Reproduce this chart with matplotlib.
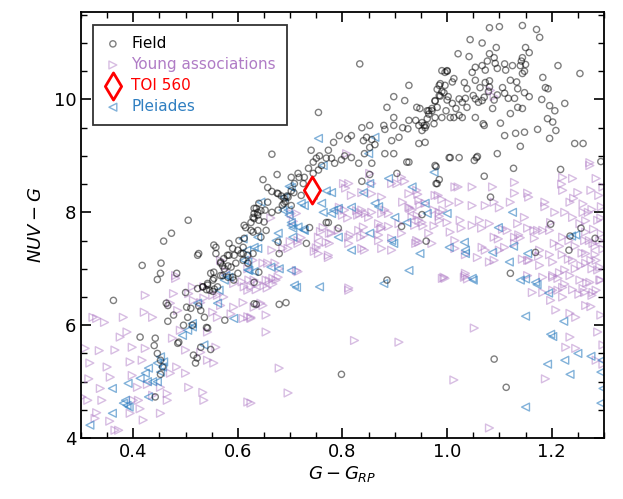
import numpy as np
import matplotlib
matplotlib.use('Agg')
import matplotlib.pyplot as plt

# Field stars, (G - G_RP, NUV - G)
field_pts = [
    (0.362,6.44),(0.417,7.06),(0.458,7.49),(0.473,7.63),(0.505,7.86),(0.453,7.10),(0.452,6.92),(0.446,6.81),(0.483,6.92),(0.413,5.79),
    (0.442,5.77),(0.440,5.64),(0.446,5.50),(0.452,5.38),(0.456,5.26),(0.452,5.13),(0.442,4.73),(0.466,6.07),(0.477,6.18),(0.463,6.39),
    (0.466,6.35),(0.500,6.58),(0.502,6.32),(0.485,5.68),(0.487,5.70),(0.504,6.14),(0.513,6.00),(0.496,6.00),(0.515,5.47),(0.522,5.42),
    (0.519,5.33),(0.529,5.61),(0.540,5.96),(0.548,5.57),(0.536,6.14),(0.529,6.26),(0.523,6.65),(0.533,6.68),(0.542,6.71),(0.552,6.80),
    (0.552,6.60),(0.561,6.68),(0.555,6.64),(0.540,6.63),(0.554,6.94),(0.571,6.88),(0.567,7.12),(0.580,7.24),(0.574,7.00),(0.587,7.03),
    (0.593,7.24),(0.606,7.27),(0.610,7.38),(0.583,7.45),(0.554,7.42),(0.558,7.27),(0.525,7.27),(0.523,7.24),(0.612,7.77),(0.629,7.65),
    (0.631,7.98),(0.635,8.07),(0.625,7.82),(0.592,6.80),(0.631,6.38),(0.575,6.09),(0.542,5.95),(0.525,6.34),(0.510,6.30),
    (0.665,9.03),(0.675,8.67),(0.648,8.58),(0.657,8.44),(0.677,8.33),(0.688,8.25),(0.691,8.19),(0.685,8.13),(0.694,8.29),(0.702,8.62),
    (0.715,8.69),(0.707,8.35),(0.657,8.18),(0.631,8.07),(0.638,8.00),(0.644,8.03),(0.629,7.91),(0.640,7.86),(0.650,7.83),(0.615,7.73),
    (0.625,7.68),(0.638,7.68),(0.654,7.68),(0.644,7.56),(0.612,7.54),(0.602,7.50),(0.590,7.36),(0.600,7.33),(0.610,7.27),
    (0.619,7.24),(0.629,7.27),(0.583,7.24),(0.573,7.18),(0.558,7.38),(0.567,7.10),(0.571,7.05),(0.581,7.05),(0.596,7.10),
    (0.610,7.15),(0.619,7.10),(0.600,6.92),(0.590,6.85),(0.581,6.85),(0.567,6.88),(0.554,6.83),(0.548,6.92),(0.542,6.74),(0.533,6.68),
    (0.546,6.62),(0.677,7.47),(0.679,7.27),(0.640,6.94),(0.631,6.76),
    (0.833,10.63),(0.754,9.77),(0.740,9.10),(0.744,8.89),(0.750,8.96),(0.756,9.00),(0.773,9.10),(0.783,9.24),(0.794,9.36),(0.810,9.30),
    (0.817,9.36),(0.837,9.50),(0.852,9.54),(0.846,9.33),(0.840,9.27),(0.856,9.29),(0.862,9.20),(0.852,9.15),(0.842,9.04),(0.856,8.87),
    (0.831,8.87),(0.817,8.97),(0.804,9.00),(0.798,8.93),(0.785,8.87),(0.779,8.96),(0.769,8.96),(0.760,8.83),(0.754,8.75),(0.744,8.69),
    (0.735,8.78),(0.727,8.62),(0.725,8.51),(0.717,8.62),(0.708,8.51),(0.721,8.30),(0.702,8.38),(0.696,8.27),(0.688,8.16),(0.683,8.29),
    (0.675,8.34),(0.665,8.37),(0.677,8.04),(0.665,8.00),(0.652,8.04),(0.640,8.16),(0.638,7.95),(0.631,7.89),(0.773,7.82),(0.792,7.72),
    (0.737,7.73),(0.837,8.55),
    (0.879,9.54),(0.881,9.47),(0.898,9.54),(0.908,9.33),(0.894,9.27),(0.915,9.50),(0.925,9.48),(0.927,9.63),(0.940,9.63),(0.946,9.54),
    (0.952,9.59),(0.958,9.50),(0.952,9.45),(0.962,9.66),(0.942,9.86),(0.948,9.84),(0.971,9.84),(0.965,9.80),(0.981,9.86),(0.977,9.98),
    (0.985,10.07),(0.994,10.12),(0.996,10.25),(1.002,10.05),(0.927,10.25),(0.919,9.98),(0.898,10.05),(0.885,9.86),(0.898,9.68),(0.990,10.51),
    (1.000,10.50),(0.985,10.25),(0.946,9.22),(0.958,9.24),(0.927,8.89),(0.904,8.69),(0.977,8.83),(0.981,8.51),(1.004,8.97),(0.881,9.04),
    (0.898,9.04),
    (1.081,11.27),(1.100,11.29),(1.144,11.31),(1.171,11.24),(1.177,11.10),(1.044,11.06),(1.067,11.00),(1.094,10.92),(1.021,10.81),(1.042,10.76),
    (1.150,10.92),(1.157,10.83),(1.144,10.74),(1.142,10.68),(1.140,10.60),(1.081,10.81),(1.090,10.74),(1.077,10.68),(1.067,10.60),(1.054,10.57),
    (1.048,10.48),(1.073,10.52),(1.092,10.64),(1.110,10.63),(1.125,10.60),(1.112,10.52),(1.096,10.55),(1.150,10.62),(1.144,10.46),(1.148,10.50),
    (1.212,10.60),(1.254,10.46),(1.183,10.39),(1.000,10.51),(0.996,10.48),(0.987,10.28),(1.013,10.37),(1.010,10.31),(1.033,10.30),(1.038,10.19),
    (1.054,10.34),(1.063,10.21),(1.073,10.30),(1.079,10.14),(1.081,10.22),(1.106,10.21),(1.121,10.34),(1.133,10.31),(1.135,10.19),(1.148,10.12),
    (1.157,10.05),(1.129,10.02),(1.117,10.02),(1.110,10.11),(1.096,10.08),(1.090,9.99),(1.087,9.84),(1.071,10.04),(1.067,9.98),(1.060,9.95),
    (1.054,10.01),(1.050,10.07),(1.035,10.02),(1.029,9.95),(1.023,10.01),(1.010,9.93),(1.017,9.84),(1.000,9.99),(0.990,10.14),(0.987,10.06),
    (0.981,10.18),(0.977,9.97),(0.971,9.80),(0.965,9.74),(0.962,9.80),(0.956,9.54),(0.960,9.54),(0.975,9.57),(0.977,9.68),(0.990,9.68),
    (0.998,9.80),(1.006,9.68),(1.013,9.68),(1.023,9.72),(1.029,9.68),(1.038,9.86),(1.054,9.68),(1.071,9.54),(1.069,9.57),(1.102,9.58),
    (1.110,9.36),(1.121,9.75),(1.135,9.86),(1.144,9.84),(1.131,9.40),(1.148,9.42),(1.173,9.47),(1.181,10.00),(1.188,10.21),(1.193,10.19),
    (1.196,9.89),(1.206,9.80),(1.192,9.66),(1.202,9.60),(1.208,9.45),(1.196,9.31),(1.225,9.93),(1.244,9.22),(1.260,9.22),(1.294,8.90),
    (1.217,8.76),(1.140,9.17),(1.127,8.78),(1.096,9.04),(1.052,8.92),(1.023,8.97),(1.006,8.97),(1.056,8.97),(0.979,8.81),(0.985,8.58),
    (0.979,8.51),(1.071,8.64),(1.083,8.27),(1.058,8.99),(1.081,10.33),
    (0.960,7.49),(1.198,7.79),(1.256,7.72),(1.235,7.58),(1.283,7.54),(1.169,7.29),(1.233,7.33),(1.121,6.92),(1.090,5.40),(1.113,4.90),
    (0.731,7.45),(0.913,7.75),(0.885,6.80),(0.635,6.37),(0.679,6.37),(0.692,6.40),(0.798,5.13),(0.923,8.89),(0.852,8.67),(0.769,7.82),
    (0.952,7.96),(0.702,8.12),
]

# Young associations
young_pts = [
    (0.308,5.59),(0.302,4.73),(0.323,6.14),(0.330,6.12),(0.317,5.33),(0.313,4.67),(0.327,4.35),(0.337,4.88),(0.340,4.67),(0.356,5.08),
    (0.350,5.26),(0.365,5.56),(0.365,4.14),(0.372,4.14),(0.375,5.79),(0.381,6.14),(0.388,5.88),(0.398,5.61),(0.394,5.35),(0.398,5.11),
    (0.408,4.90),(0.410,4.67),(0.400,4.67),(0.394,4.44),(0.413,4.52),(0.423,6.53),(0.437,6.14),(0.421,6.23),(0.423,5.59),(0.417,5.38),
    (0.427,4.95),(0.437,4.76),(0.452,4.90),(0.465,4.67),(0.465,4.79),(0.471,5.15),(0.483,5.26),(0.475,5.77),(0.485,6.26),(0.477,6.56),
    (0.481,6.83),(0.471,6.39),(0.490,5.91),(0.500,5.56),(0.500,5.15),(0.506,4.90),(0.529,5.52),(0.533,4.81),(0.535,4.67),(0.542,5.38),
    (0.554,5.33),(0.542,5.88),(0.558,5.61),(0.552,6.23),(0.561,6.14),(0.567,6.35),(0.592,6.32),(0.587,6.20),(0.610,6.12),(0.619,6.15),
    (0.625,6.12),(0.631,6.32),(0.610,6.40),(0.638,6.74),(0.635,6.63),(0.619,6.62),(0.592,6.74),(0.573,6.50),(0.535,6.48),(0.529,6.40),
    (0.515,6.44),(0.506,6.56),(0.561,6.53),(0.552,6.53),(0.567,7.15),(0.619,7.00),(0.629,7.15),(0.631,6.80),(0.577,6.95),(0.619,4.64),
    (0.452,4.44),(0.419,4.32),(0.315,5.05),(0.335,5.55),(0.345,6.05),(0.330,4.45),(0.355,4.30),
    (0.481,6.88),(0.513,6.68),(0.535,6.68),(0.612,6.68),(0.625,6.68),(0.608,6.77),(0.621,6.80),(0.654,6.80),(0.656,6.66),(0.667,6.73),
    (0.677,6.85),(0.679,7.00),(0.657,7.10),(0.671,7.10),(0.686,7.36),(0.696,7.36),(0.665,7.33),(0.648,7.10),(0.663,7.90),(0.715,7.50),
    (0.700,7.48),
    (0.808,9.04),(0.852,8.69),(0.856,8.51),(0.812,8.51),(0.806,8.43),(0.817,8.30),(0.837,8.35),(0.913,8.62),(0.919,8.55),(0.942,8.39),
    (0.944,8.32),(0.977,8.30),(0.983,8.30),(0.958,8.16),(0.975,8.04),(0.990,8.23),(0.927,8.09),(0.933,8.04),(0.915,8.18),(0.875,8.27),
    (0.881,8.04),(0.888,7.98),(0.837,8.04),(0.844,7.98),(0.804,8.04),(0.800,7.95),(0.810,7.90),(0.792,7.68),(0.763,7.73),(0.758,7.66),
    (0.775,7.63),(0.831,7.68),(0.840,7.74),(0.869,7.80),(0.873,7.71),(0.908,7.80),(0.933,7.91),(0.943,7.94),(0.985,7.86),(0.975,7.76),
    (0.954,7.76),(0.992,8.04),(0.702,7.98),(0.706,7.84),
    (0.802,8.51),(0.894,8.51),(0.904,8.51),(0.927,8.33),(0.946,8.21),(0.948,8.13),(0.929,8.07),(1.004,8.16),(1.000,7.82),
    (1.015,8.45),(0.985,8.00),(0.985,7.93),(0.946,7.86),(0.952,7.82),(0.965,7.63),(0.971,7.45),(1.006,7.65),(1.015,7.50),(0.946,7.47),
    (0.913,7.63),(0.894,7.54),(0.875,7.73),(0.850,7.91),(0.856,8.00),(0.833,7.98),(0.827,8.03),(0.829,7.95),
    (0.794,8.09),(0.842,7.60),(0.835,7.56),(0.869,7.50),(0.875,7.36),(0.894,7.33),(0.837,7.36),(0.812,7.56),
    (0.815,7.60),(0.779,7.63),(0.769,7.47),(0.754,7.42),(0.754,7.27),(0.746,7.31),(0.715,7.45),(0.721,7.55),(0.712,7.98),(0.856,8.33),
    (0.875,7.98),(0.773,7.20),(0.712,6.97),(0.715,6.95),(0.812,6.66),(0.942,7.50),(0.994,6.85),(0.991,6.83),
    (0.754,7.56),(0.773,7.24),(0.667,6.83),(0.673,6.80),(0.660,6.79),(0.650,6.70),(0.644,6.39),(0.648,6.35),(0.654,6.18),
    (0.625,6.14),(0.654,5.88),(0.812,6.62),(0.823,5.73),(0.908,5.70),(0.679,5.24),(0.696,4.80),(0.750,7.37),(0.775,7.45),
    (0.812,7.45),(0.842,7.33),(0.869,7.60),(0.888,7.75),(0.938,7.77),(0.940,7.45),(0.625,4.62),
    (0.996,6.83),(1.052,5.95),(1.013,5.03),(1.081,4.18),(1.188,5.05),(1.035,6.92),(1.015,7.36),(1.067,7.38),(1.081,7.12),(1.110,7.38),
    (1.129,7.45),(1.140,7.55),(1.157,7.15),(1.175,7.22),(1.202,7.12),(1.202,6.88),(1.212,6.83),(1.225,6.98),(1.198,6.44),(1.208,6.27),
    (1.225,6.73),(1.246,6.14),(1.265,6.35),(1.279,6.58),(1.275,6.33),(1.288,5.88),(1.235,5.79),(1.227,5.61),(1.246,5.59),(1.298,5.65),
    (1.285,5.38),(1.298,5.31),(1.265,7.10),(1.258,7.28),(1.272,7.50),(1.283,7.25),(1.288,6.98),(1.294,6.80),(1.260,6.65),(1.267,6.75),
    (1.277,6.53),(1.294,6.18),(1.252,6.55),(1.212,6.62),(1.221,6.50),(1.235,6.21),(1.033,6.85),(1.039,6.82),
    (1.273,8.83),(1.275,8.39),(1.221,8.39),(1.235,8.18),(1.242,8.25),(1.260,8.00),(1.270,8.00),(1.277,8.05),(1.288,7.86),(1.294,7.90),
    (1.265,7.85),(1.254,7.80),(1.240,7.91),(1.225,8.00),(1.206,8.00),(1.198,7.82),(1.183,7.68),(1.196,7.68),(1.221,7.56),(1.233,7.50),
    (1.263,7.50),(1.279,7.45),(1.283,7.40),(1.292,7.50),(1.265,7.27),(1.275,7.15),(1.285,7.15),(1.292,7.03),(1.277,7.00),(1.256,7.06),
    (1.240,7.15),(1.232,7.17),(1.196,7.25),(1.177,7.33),(1.167,7.54),(1.154,7.72),(1.148,7.91),(1.135,7.80),(1.137,7.60),
    (1.129,7.56),(1.115,7.68),(1.106,7.70),(1.090,7.56),(1.098,7.53),(1.081,7.80),(1.062,7.86),(1.066,7.72),(1.048,7.77),(1.025,7.86),
    (1.027,7.72),(1.048,8.12),(1.073,8.12),(1.090,8.18),(1.100,8.08),(1.121,8.18),(1.129,8.34),(1.154,8.34),(1.156,8.27),(1.187,8.18),
    (1.187,8.10),(1.129,8.53),(1.166,7.68),(1.173,7.68),(1.087,8.45),(1.048,8.45),(1.021,8.45),(1.023,8.18),(1.221,8.62),(1.219,8.50),
    (1.273,8.88),(1.177,7.06),(1.154,7.15),(1.144,7.17),(1.154,6.88),(1.183,6.85),(1.202,6.85),(1.215,6.93),(1.235,6.88),(1.254,6.80),
    (1.273,6.76),(1.292,6.80),(1.285,6.62),(1.263,6.58),(1.240,6.63),(1.221,6.67),(1.202,6.62),(1.183,6.58),(1.163,6.58),(1.100,7.33),
    (1.073,7.33),(1.058,7.20),(1.090,7.15),(1.035,6.88),(1.035,7.25),
    (1.290,8.30),(1.295,8.10),(1.285,8.60),(1.298,8.45),(1.250,8.35),(1.240,8.60),(1.260,8.15),(1.280,7.70),(1.295,7.62),(1.265,7.65),
    (1.245,7.40),(1.215,7.40),(1.205,7.45),(1.220,7.25),(1.245,7.00),(1.298,7.35),(1.083,10.16),(1.090,10.05),
]

# Pleiades
pleiades_pts = [
    (0.317,4.23),(0.360,4.44),(0.385,4.67),(0.388,4.58),(0.381,4.62),(0.392,4.55),(0.360,4.88),(0.390,4.97),(0.413,5.06),(0.427,5.00),
    (0.429,4.73),(0.429,5.24),(0.446,5.33),(0.452,5.44),(0.458,5.35),(0.456,5.26),(0.452,5.17),(0.423,5.15),(0.437,5.00),(0.446,5.00),
    (0.494,5.82),(0.504,5.91),(0.513,6.03),(0.513,5.97),(0.523,6.39),(0.535,5.65),(0.561,6.39),(0.564,6.62),(0.574,6.80),(0.592,6.12),
    (0.577,6.88),(0.619,7.12),(0.619,6.98),(0.631,6.95),(0.631,7.38),(0.638,7.56),(0.610,7.53),
    (0.644,8.18),(0.698,8.46),(0.696,8.04),(0.702,7.82),(0.705,7.56),(0.715,7.74),(0.677,7.63),(0.673,7.50),(0.663,7.03),(0.679,7.00),
    (0.702,6.97),(0.712,6.67),(0.638,7.36),(0.617,7.33),(0.612,7.15),(0.621,6.97),(0.583,6.85),
    (0.754,9.31),(0.862,9.33),(0.850,9.04),(0.763,8.83),(0.888,8.60),(0.933,8.45),(0.975,8.71),(0.852,8.51),(0.840,8.35),(0.779,8.35),
    (0.769,8.38),(0.702,8.44),(0.688,8.27),(0.686,8.04),(0.721,8.16),(0.744,8.30),(0.783,8.04),(0.792,8.07),(0.779,7.98),(0.862,8.16),
    (0.869,8.10),(0.900,7.91),(0.817,8.09),(0.698,7.95),(0.705,7.72),(0.725,7.70),(0.760,8.16),(0.763,8.00),
    (0.958,8.16),(1.000,7.98),(0.923,7.82),(0.727,8.12),(0.727,7.68),(0.852,7.63),(0.894,7.50),
    (0.817,7.33),(0.792,7.56),(1.004,7.38),(0.948,7.27),(0.927,6.97),(0.879,6.74),(0.756,6.68),(0.708,6.71),(0.898,7.45),
    (0.702,7.77),(1.098,7.73),(1.033,7.47),(1.035,7.27),(1.035,7.33),(1.087,7.29),
    (1.127,7.40),(1.119,7.12),(1.154,7.27),(1.140,6.80),(1.169,6.76),(1.172,6.72),(1.050,6.80),(1.194,6.57),(1.150,6.16),(1.223,6.07),
    (1.198,5.84),(1.202,5.80),(1.250,5.50),(1.275,5.45),(1.192,5.31),(1.225,5.38),(1.235,5.13),(1.294,5.17),(1.296,5.38),(1.298,4.88),
    (1.294,4.62),(1.150,4.55),(1.238,7.58),(1.125,8.00),(1.048,6.83),(1.150,6.82),(1.246,7.60),(0.962,7.98),
]

toi_x = [0.742]
toi_y = [8.40]

field = np.array(field_pts)
young = np.array(young_pts)
pleiades = np.array(pleiades_pts)

young_color = '#b07cc6'
pleiades_color = '#2f7fc1'

fig = plt.figure(figsize=(6.23, 4.99), dpi=100)
ax = fig.add_axes([0.130, 0.122, 0.8395, 0.854])

ax.scatter(field[:, 0], field[:, 1], s=20, marker='o', facecolors='none',
           edgecolors='k', linewidths=1.0, alpha=0.5, label='Field', zorder=3)
ax.scatter(young[:, 0], young[:, 1], s=32, marker='>', facecolors='none',
           edgecolors=young_color, linewidths=1.0, alpha=0.5,
           label='Young associations', zorder=2)
ax.scatter(toi_x, toi_y, s=190, marker='d', facecolors='white',
           edgecolors='red', linewidths=2.0, label='TOI 560', zorder=5)
ax.scatter(pleiades[:, 0], pleiades[:, 1], s=32, marker='<', facecolors='none',
           edgecolors=pleiades_color, linewidths=1.0, alpha=0.6,
           label='Pleiades', zorder=2)

ax.set_xlim(0.3, 1.3)
ax.set_ylim(4, 11.55)
ax.set_xticks([0.4, 0.6, 0.8, 1.0, 1.2])
ax.set_yticks([4, 6, 8, 10])
ax.set_xticks(np.arange(0.3, 1.31, 0.05), minor=True)
ax.set_yticks(np.arange(4, 11.6, 0.5), minor=True)
ax.tick_params(which='both', direction='in', top=True, right=True, labelsize=13)
ax.tick_params(which='major', length=7, width=1.2)
ax.tick_params(which='minor', length=4, width=1.0)
for sp in ax.spines.values():
    sp.set_linewidth(1.3)

ax.set_xlabel(r'$G - G_{RP}$', fontsize=13, labelpad=2)
ax.set_ylabel(r'$NUV - G$', fontsize=13, labelpad=6)

leg = ax.legend(loc='upper left', bbox_to_anchor=(0.023, 0.969), borderaxespad=0,
                fontsize=11, borderpad=0.7, labelspacing=0.4,
                handlelength=1.2, handletextpad=0.6, fancybox=False,
                framealpha=1, edgecolor='#333333',
                labelcolor=['black', young_color, 'red', pleiades_color])
leg.get_frame().set_linewidth(1.3)

fig.savefig('out.png', dpi=100)
